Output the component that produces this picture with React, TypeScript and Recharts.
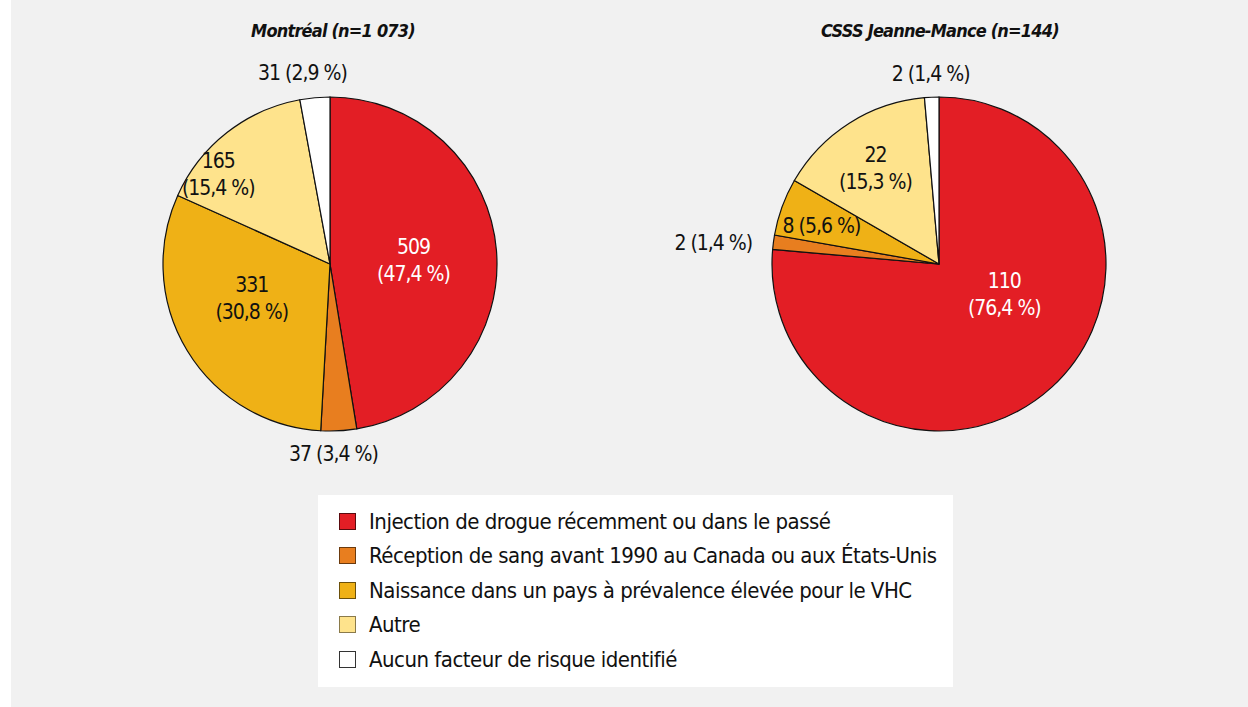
import { PieChart, Pie, Cell, Legend } from 'recharts';

const CATEGORIES = [
  'Injection de drogue récemment ou dans le passé',
  'Réception de sang avant 1990 au Canada ou aux États-Unis',
  'Naissance dans un pays à prévalence élevée pour le VHC',
  'Autre',
  'Aucun facteur de risque identifié',
];
const MONTREAL_COUNTS = [509, 37, 331, 165, 31];
const MONTREAL_PCT = ['47,4', '3,4', '30,8', '15,4', '2,9'];
const JEANNE_MANCE_COUNTS = [110, 2, 8, 22, 2];
const JEANNE_MANCE_PCT = ['76,4', '1,4', '5,6', '15,3', '1,4'];
const TITLES = ['Montréal (n=1 073)', 'CSSS Jeanne-Mance (n=144)'];

const COLORS = ['#e31e25', '#e87e1f', '#efb116', '#fee38c', '#ffffff'];
const BORDERS = ['#5a0a0e', '#6b3a0e', '#6b500a', '#8a7a4a', '#333333'];
const FONT = '"DejaVu Sans Condensed", "Liberation Sans Narrow", "Roboto", sans-serif';

// label placement per slice: radius factor, angle shift (deg), two lines?, anchor
type LabelPos = { r: number; shift: number; split: boolean; anchor?: 'middle' | 'end' };
const LEFT_LABELS: LabelPos[] = [
  { r: 0.5, shift: -2, split: true },
  { r: 1.14, shift: -2, split: false },
  { r: 0.51, shift: -8, split: true },
  { r: 0.86, shift: 13, split: true },
  { r: 1.156, shift: 3, split: false },
];
const RIGHT_LABELS: LabelPos[] = [
  { r: 0.43, shift: 23, split: true },
  { r: 1.126, shift: 1, split: false, anchor: 'end' },
  { r: 0.74, shift: 2, split: false },
  { r: 0.69, shift: 1, split: true },
  { r: 1.14, shift: 0, split: false },
];

const RADIAN = Math.PI / 180;

const makeLabel = (layout: LabelPos[], pct: string[]) => (props: any) => {
  const { cx, cy, midAngle, outerRadius, index, value } = props;
  const pos = layout[index];
  const a = (midAngle + pos.shift) * RADIAN;
  const x = cx + outerRadius * pos.r * Math.cos(a);
  const y = cy - outerRadius * pos.r * Math.sin(a);
  const fill = index === 0 ? '#ffffff' : '#111111';
  if (pos.split) {
    return (
      <text x={x} y={y} fill={fill} fontSize={21} letterSpacing={-1} fontFamily={FONT} textAnchor="middle">
        <tspan x={x} dy={-6}>{value}</tspan>
        <tspan x={x} dy={27}>({pct[index]} %)</tspan>
      </text>
    );
  }
  return (
    <text x={x} y={y} fill={fill} fontSize={21} letterSpacing={-1} fontFamily={FONT} textAnchor={pos.anchor ?? 'middle'} dominantBaseline="central">
      {value} ({pct[index]} %)
    </text>
  );
};

const montrealData = CATEGORIES.map((name, i) => ({ name, value: MONTREAL_COUNTS[i] }));
const jeanneData = CATEGORIES.map((name, i) => ({ name, value: JEANNE_MANCE_COUNTS[i] }));

const renderLegend = () => (
  <div
    style={{
      background: '#ffffff',
      width: 635,
      height: 192,
      boxSizing: 'border-box',
      padding: '9px 0 0 21px',
      fontFamily: FONT,
      fontSize: 22,
      letterSpacing: -0.5,
      color: '#111',
    }}
  >
    {CATEGORIES.map((c, i) => (
      <div key={c} style={{ display: 'flex', alignItems: 'center', height: 34.5 }}>
        <span
          style={{
            display: 'inline-block',
            width: 17,
            height: 17,
            boxSizing: 'border-box',
            background: COLORS[i],
            border: `1.5px solid ${BORDERS[i]}`,
            marginRight: 13,
          }}
        />
        <span>{c}</span>
      </div>
    ))}
  </div>
);

export default function App() {
  return (
    <div style={{ position: 'fixed', left: 0, top: 0, width: 1248, height: 707, background: '#ffffff' }}>
      <div style={{ position: 'absolute', left: 11, top: 0, width: 1237, height: 707, background: '#f1f1f1' }} />
      <div style={{ position: 'absolute', left: 0, top: 0 }}>
        <PieChart width={1248} height={707} margin={{ top: 0, right: 0, bottom: 0, left: 0 }}>
          <text x={333} y={30} textAnchor="middle" dominantBaseline="central" fontFamily={FONT} fontSize={18} letterSpacing={-0.8} fontWeight="bold" fontStyle="italic" fill="#111">
            {TITLES[0]}
          </text>
          <text x={940} y={30} textAnchor="middle" dominantBaseline="central" fontFamily={FONT} fontSize={18} letterSpacing={-0.8} fontWeight="bold" fontStyle="italic" fill="#111">
            {TITLES[1]}
          </text>
          <Pie
            data={montrealData}
            dataKey="value"
            nameKey="name"
            cx={330}
            cy={264}
            outerRadius={167}
            startAngle={90}
            endAngle={-270}
            stroke="#111"
            strokeWidth={1.2}
            labelLine={false}
            label={makeLabel(LEFT_LABELS, MONTREAL_PCT)}
            isAnimationActive={false}
          >
            {montrealData.map((d, i) => (
              <Cell key={d.name} fill={COLORS[i]} />
            ))}
          </Pie>
          <Pie
            data={jeanneData}
            dataKey="value"
            nameKey="name"
            cx={939}
            cy={264}
            outerRadius={167}
            startAngle={90}
            endAngle={-270}
            stroke="#111"
            strokeWidth={1.2}
            labelLine={false}
            label={makeLabel(RIGHT_LABELS, JEANNE_MANCE_PCT)}
            isAnimationActive={false}
          >
            {jeanneData.map((d, i) => (
              <Cell key={d.name} fill={COLORS[i]} />
            ))}
          </Pie>
          <Legend
            content={renderLegend}
            wrapperStyle={{ position: 'absolute', left: 318, top: 495, width: 635, height: 192 }}
          />
        </PieChart>
      </div>
    </div>
  );
}
